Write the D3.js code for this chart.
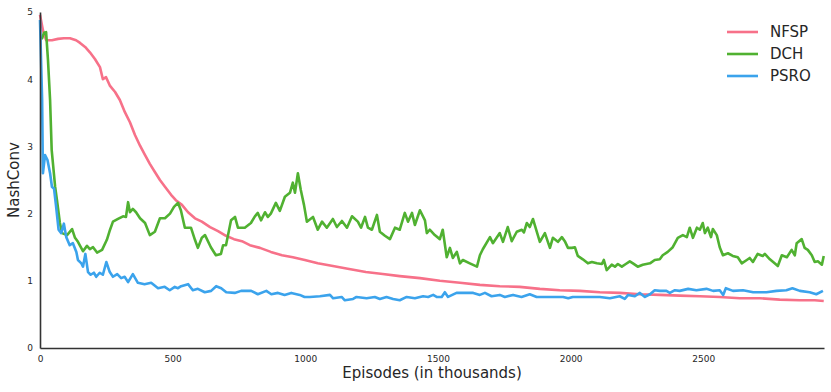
<!DOCTYPE html>
<html>
<head>
<meta charset="utf-8">
<script src="https://cdn.jsdelivr.net/npm/d3@7"></script>
<style>
  body { margin: 0; background: #fff; }
  text { font-family: "DejaVu Sans", sans-serif; fill: #262626; }
</style>
</head>
<body>
<div id="chart"></div>
<script>
// values
var seriesNames = ['NFSP', 'DCH', 'PSRO'];
var seriesColors = ['#f77189', '#50b131', '#3ba3ec'];
var xTicks = [0, 500, 1000, 1500, 2000, 2500];
var yTicks = [0, 1, 2, 3, 4, 5];

var nfspEpisodes = [0,11,23,45,68,90,113,136,151,170,188,207,226,237,249,264,283,301,320,339,358,377,396,414,433,452,471,494,512,535,558,584,610,641,671,701,731,761,791,829,870,912,953,998,1047,1104,1160,1228,1292,1356,1432,1507,1583,1658,1733,1808,1884,1959,2035,2110,2185,2261,2336,2411,2487,2562,2638,2713,2788,2864,2920,2954];
var nfspValues = [4.96,4.73,4.58,4.58,4.6,4.61,4.61,4.58,4.54,4.48,4.4,4.3,4.18,4.0,4.03,3.9,3.81,3.69,3.51,3.36,3.17,3.01,2.87,2.74,2.62,2.5,2.4,2.28,2.2,2.13,2.02,1.93,1.88,1.8,1.74,1.67,1.62,1.59,1.53,1.49,1.43,1.38,1.35,1.31,1.26,1.22,1.18,1.13,1.1,1.07,1.04,1.0,0.97,0.94,0.92,0.91,0.88,0.86,0.85,0.83,0.82,0.8,0.79,0.78,0.77,0.76,0.74,0.74,0.72,0.71,0.71,0.7];

var dchEpisodes = [0,8,15,23,30,38,44,57,64,75,83,102,121,132,143,162,177,188,200,215,234,252,264,275,294,313,324,332,339,350,362,377,396,414,433,452,471,490,505,520,531,546,569,584,595,610,622,644,663,682,690,701,720,735,746,772,795,810,821,833,848,859,870,889,904,923,942,953,961,972,983,995,1006,1029,1047,1063,1081,1104,1119,1138,1157,1176,1198,1210,1225,1236,1251,1270,1281,1300,1319,1338,1356,1375,1387,1402,1413,1432,1451,1458,1469,1488,1507,1518,1533,1545,1556,1571,1583,1594,1620,1647,1658,1669,1696,1707,1733,1745,1763,1778,1797,1816,1824,1835,1846,1858,1865,1884,1903,1922,1933,1952,1967,1978,1990,2005,2016,2027,2046,2065,2080,2099,2118,2125,2136,2155,2167,2178,2193,2208,2223,2235,2253,2272,2299,2317,2336,2347,2366,2385,2404,2423,2438,2449,2461,2476,2487,2498,2506,2517,2529,2536,2551,2562,2574,2593,2611,2630,2645,2664,2675,2687,2705,2724,2732,2751,2769,2781,2796,2815,2833,2845,2852,2871,2882,2894,2909,2920,2932,2947,2954];
var dchValues = [4.61,4.61,4.69,4.7,4.29,3.69,2.95,2.4,2.2,1.86,1.71,1.68,1.77,1.64,1.58,1.44,1.52,1.47,1.5,1.42,1.46,1.61,1.76,1.88,1.92,1.96,1.95,2.17,2.02,2.07,2.02,1.93,1.86,1.68,1.73,1.93,1.93,2.0,2.1,2.16,2.05,1.79,1.79,1.61,1.49,1.64,1.68,1.5,1.38,1.4,1.53,1.53,1.9,1.95,1.79,1.79,1.86,1.96,2.01,1.9,2.02,1.95,2.0,2.16,2.04,2.25,2.31,2.46,2.31,2.6,2.35,2.13,1.88,1.95,1.76,1.88,1.79,1.92,1.8,1.89,1.79,1.96,1.88,1.79,1.95,1.79,1.76,1.98,1.73,1.67,1.62,1.79,1.76,2.01,1.88,2.01,1.83,2.05,1.9,1.71,1.76,1.68,1.62,1.76,1.35,1.49,1.34,1.43,1.26,1.31,1.26,1.21,1.38,1.47,1.65,1.56,1.71,1.58,1.8,1.59,1.73,1.76,1.72,1.86,1.8,1.92,1.83,1.58,1.71,1.49,1.64,1.58,1.65,1.59,1.49,1.49,1.5,1.37,1.32,1.26,1.28,1.26,1.25,1.31,1.16,1.24,1.21,1.25,1.21,1.25,1.29,1.26,1.21,1.24,1.26,1.31,1.32,1.38,1.43,1.5,1.64,1.68,1.65,1.79,1.64,1.79,1.76,1.86,1.71,1.79,1.65,1.77,1.68,1.5,1.38,1.41,1.37,1.35,1.26,1.31,1.34,1.28,1.4,1.37,1.4,1.32,1.26,1.22,1.38,1.35,1.46,1.38,1.56,1.62,1.49,1.46,1.38,1.28,1.29,1.24,1.37];

var psroEpisodes = [0,8,11,19,28,38,45,53,60,70,80,90,99,112,124,137,143,156,162,171,181,191,203,212,225,237,250,263,275,291,306,319,332,350,369,394,419,445,470,489,508,520,532,558,576,595,621,645,664,683,702,734,758,796,821,853,872,897,922,947,979,997,1017,1055,1093,1105,1137,1149,1180,1193,1231,1262,1281,1306,1331,1356,1382,1413,1444,1463,1482,1495,1514,1526,1538,1570,1608,1633,1658,1677,1702,1733,1752,1783,1815,1846,1872,1909,1940,1972,1991,2008,2060,2110,2148,2185,2204,2217,2242,2261,2280,2299,2317,2336,2361,2374,2393,2411,2443,2474,2512,2537,2562,2575,2585,2612,2650,2688,2738,2776,2813,2836,2864,2901,2926,2951];
var psroValues = [4.88,3.69,2.6,2.87,2.8,2.6,2.4,2.37,2.13,1.76,1.71,1.85,1.65,1.53,1.56,1.43,1.31,1.26,1.21,1.4,1.13,1.09,1.12,1.06,1.12,1.09,1.28,1.13,1.06,1.1,1.04,1.06,0.98,1.1,0.97,0.95,0.97,0.89,0.91,0.86,0.91,0.89,0.92,0.95,0.86,0.88,0.83,0.85,0.92,0.89,0.83,0.82,0.85,0.85,0.8,0.85,0.8,0.82,0.79,0.82,0.79,0.76,0.76,0.77,0.79,0.74,0.76,0.71,0.73,0.76,0.74,0.76,0.73,0.76,0.73,0.71,0.76,0.74,0.77,0.76,0.79,0.76,0.76,0.83,0.76,0.82,0.82,0.82,0.79,0.82,0.77,0.79,0.76,0.79,0.76,0.8,0.76,0.76,0.76,0.76,0.74,0.76,0.76,0.76,0.74,0.77,0.73,0.79,0.77,0.82,0.76,0.8,0.86,0.85,0.85,0.82,0.86,0.85,0.88,0.86,0.88,0.85,0.86,0.79,0.89,0.85,0.86,0.83,0.83,0.85,0.86,0.89,0.85,0.83,0.8,0.85];

var width = 831, height = 392;
var margin = {top: 12, right: 7, bottom: 44, left: 40};

var svg = d3.select('#chart').append('svg')
    .attr('width', width)
    .attr('height', height);

var x = d3.scaleLinear()
    .domain([0, 2955])
    .range([margin.left, width - margin.right]);

var y = d3.scaleLinear()
    .domain([0, 5])
    .range([height - margin.bottom, margin.top]);

var series = [
  {name: seriesNames[0], color: seriesColors[0], xs: nfspEpisodes, ys: nfspValues},
  {name: seriesNames[1], color: seriesColors[1], xs: dchEpisodes, ys: dchValues},
  {name: seriesNames[2], color: seriesColors[2], xs: psroEpisodes, ys: psroValues}
];

var line = d3.line()
    .x(function(d) { return x(d[0]); })
    .y(function(d) { return y(d[1]); });

// lines
series.forEach(function(s) {
  var pts = s.xs.map(function(e, i) { return [e, s.ys[i]]; });
  svg.append('path')
    .datum(pts)
    .attr('d', line)
    .attr('fill', 'none')
    .attr('stroke', s.color)
    .attr('stroke-width', 2.6)
    .attr('stroke-linejoin', 'round');
});

// axes
var xAxis = svg.append('g')
    .attr('transform', 'translate(0,' + y(0) + ')')
    .call(d3.axisBottom(x).tickValues(xTicks).tickSize(0).tickPadding(8).tickFormat(d3.format('d')));
var yAxis = svg.append('g')
    .attr('transform', 'translate(' + x(0) + ',0)')
    .call(d3.axisLeft(y).tickValues(yTicks).tickSize(0).tickPadding(7).tickFormat(d3.format('d')));

[xAxis, yAxis].forEach(function(a) {
  a.select('.domain').attr('stroke', '#333').attr('stroke-width', 1.6);
  a.selectAll('text').attr('font-size', 9).attr('font-family', '"DejaVu Sans", sans-serif').attr('fill', '#262626');
});

svg.append('text')
  .attr('x', 432)
  .attr('y', 378)
  .attr('text-anchor', 'middle')
  .attr('font-size', 15)
  .text('Episodes (in thousands)');

svg.append('text')
  .attr('transform', 'translate(19,180) rotate(-90)')
  .attr('text-anchor', 'middle')
  .attr('font-size', 15)
  .text('NashConv');

// legend
var legend = svg.append('g');
series.forEach(function(s, i) {
  var ly = 32 + i * 22;
  legend.append('line')
    .attr('x1', 727).attr('x2', 758)
    .attr('y1', ly).attr('y2', ly)
    .attr('stroke', s.color)
    .attr('stroke-width', 2.6);
  legend.append('text')
    .attr('x', 770)
    .attr('y', ly)
    .attr('dy', '0.35em')
    .attr('font-size', 15)
    .text(s.name);
});
</script>
</body>
</html>
